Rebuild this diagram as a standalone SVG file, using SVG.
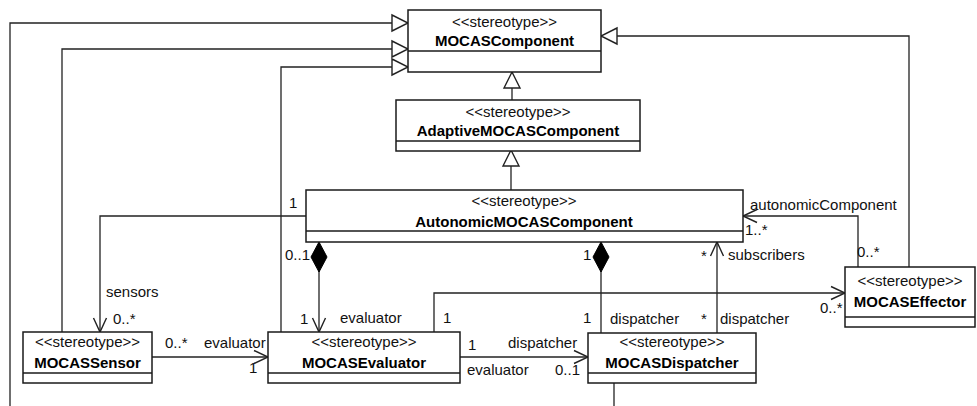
<svg xmlns="http://www.w3.org/2000/svg" width="977" height="406" viewBox="0 0 977 406">
<style>
  .box { fill: #fff; stroke: #1a1a1a; stroke-width: 1.5; }
  .div { stroke: #1a1a1a; stroke-width: 1.5; }
  .conn { fill: none; stroke: #222; stroke-width: 1.3; }
  .st { font-family: "Liberation Sans", Arial, sans-serif; font-size: 15px; fill: #111; text-anchor: middle; }
  .nm { font-family: "Liberation Sans", Arial, sans-serif; font-size: 15px; font-weight: bold; fill: #000; text-anchor: middle; }
  .lb { font-family: "Liberation Sans", Arial, sans-serif; font-size: 15px; fill: #111; }
</style>
<defs>
  <marker id="open" markerUnits="userSpaceOnUse" markerWidth="18" markerHeight="16" refX="15" refY="7" orient="auto" overflow="visible">
    <path d="M1,0.5 L15,7 L1,13.5" fill="none" stroke="#222" stroke-width="1.4"/>
  </marker>
  <marker id="tri" markerUnits="userSpaceOnUse" markerWidth="18" markerHeight="18" refX="16" refY="8" orient="auto" overflow="visible">
    <path d="M0,0 L16,8 L0,16 Z" fill="#fff" stroke="#222" stroke-width="1.4"/>
  </marker>
  <marker id="dia" markerUnits="userSpaceOnUse" markerWidth="32" markerHeight="18" refX="0" refY="8" orient="auto" overflow="visible">
    <path d="M0,8 L15,0 L30,8 L15,16 Z" fill="#000" stroke="#000" stroke-width="1"/>
  </marker>
</defs>
<rect width="977" height="406" fill="#fff"/>

<g id="connectors">
  <path class="conn" d="M10,406 V23 H408" marker-end="url(#tri)"/>
  <path class="conn" d="M62,332 V49 H408" marker-end="url(#tri)"/>
  <path class="conn" d="M281,332 V67 H408" marker-end="url(#tri)"/>
  <path class="conn" d="M909,267 V36 H601" marker-end="url(#tri)"/>
  <path class="conn" d="M512,100 V72" marker-end="url(#tri)"/>
  <path class="conn" d="M511,190 V150" marker-end="url(#tri)"/>
  <path class="conn" d="M306,216 H100 V332" marker-end="url(#open)"/>
  <path class="conn" d="M319,242 V332" marker-start="url(#dia)" marker-end="url(#open)"/>
  <path class="conn" d="M601,242 V333" marker-start="url(#dia)"/>
  <path class="conn" d="M717,333 V242" marker-end="url(#open)"/>
  <path class="conn" d="M858,267 V216 H743" marker-end="url(#open)"/>
  <path class="conn" d="M152,357 H268" marker-end="url(#open)"/>
  <path class="conn" d="M460,357 H588" marker-end="url(#open)"/>
  <path class="conn" d="M434,332 V293 H845" marker-end="url(#open)"/>
  <path class="conn" d="M614,383 V406"/>

  <text class="lb" x="289" y="208">1</text>
  <text class="lb" x="285" y="260">0..1</text>
  <text class="lb" x="583" y="260">1</text>
  <text class="lb" x="701" y="261">*</text>
  <text class="lb" x="728" y="260">subscribers</text>
  <text class="lb" x="750" y="210">autonomicComponent</text>
  <text class="lb" x="745" y="235">1..*</text>
  <text class="lb" x="857" y="257">0..*</text>
  <text class="lb" x="106" y="297">sensors</text>
  <text class="lb" x="113" y="324">0..*</text>
  <text class="lb" x="300" y="324">1</text>
  <text class="lb" x="340" y="323">evaluator</text>
  <text class="lb" x="443" y="323">1</text>
  <text class="lb" x="583" y="323">1</text>
  <text class="lb" x="610" y="324">dispatcher</text>
  <text class="lb" x="701" y="324">*</text>
  <text class="lb" x="720" y="324">dispatcher</text>
  <text class="lb" x="165" y="348">0..*</text>
  <text class="lb" x="204" y="348">evaluator</text>
  <text class="lb" x="249" y="373">1</text>
  <text class="lb" x="468" y="350">1</text>
  <text class="lb" x="508" y="348">dispatcher</text>
  <text class="lb" x="467" y="375">evaluator</text>
  <text class="lb" x="555" y="375">0..1</text>
  <text class="lb" x="820" y="313">0..*</text>
</g>

<g id="MOCASComponent">
  <rect class="box" x="408" y="10" width="193" height="62"/>
  <line class="div" x1="408" y1="51" x2="601" y2="51"/>
  <text class="st" x="504.5" y="27">&lt;&lt;stereotype&gt;&gt;</text>
  <text class="nm" x="504.5" y="46">MOCASComponent</text>
</g>

<g id="AdaptiveMOCASComponent">
  <rect class="box" x="396" y="100" width="244" height="51"/>
  <line class="div" x1="396" y1="141" x2="640" y2="141"/>
  <text class="st" x="518" y="117">&lt;&lt;stereotype&gt;&gt;</text>
  <text class="nm" x="518" y="136">AdaptiveMOCASComponent</text>
</g>

<g id="AutonomicMOCASComponent">
  <rect class="box" x="306" y="190" width="437" height="52"/>
  <line class="div" x1="306" y1="231" x2="743" y2="231"/>
  <text class="st" x="524" y="206">&lt;&lt;stereotype&gt;&gt;</text>
  <text class="nm" x="524" y="227">AutonomicMOCASComponent</text>
</g>

<g id="MOCASSensor">
  <rect class="box" x="23" y="332" width="129" height="51"/>
  <line class="div" x1="23" y1="373" x2="152" y2="373"/>
  <text class="st" x="87.5" y="347">&lt;&lt;stereotype&gt;&gt;</text>
  <text class="nm" x="87.5" y="368">MOCASSensor</text>
</g>

<g id="MOCASEvaluator">
  <rect class="box" x="268" y="332" width="192" height="51"/>
  <line class="div" x1="268" y1="373" x2="460" y2="373"/>
  <text class="st" x="364" y="347">&lt;&lt;stereotype&gt;&gt;</text>
  <text class="nm" x="364" y="368">MOCASEvaluator</text>
</g>

<g id="MOCASDispatcher">
  <rect class="box" x="588" y="333" width="168" height="50"/>
  <line class="div" x1="588" y1="373" x2="756" y2="373"/>
  <text class="st" x="672" y="347">&lt;&lt;stereotype&gt;&gt;</text>
  <text class="nm" x="672" y="368">MOCASDispatcher</text>
</g>

<g id="MOCASEffector">
  <rect class="box" x="845" y="267" width="130" height="60"/>
  <line class="div" x1="845" y1="317" x2="975" y2="317"/>
  <text class="st" x="910" y="286">&lt;&lt;stereotype&gt;&gt;</text>
  <text class="nm" x="910" y="307">MOCASEffector</text>
</g>
</svg>
